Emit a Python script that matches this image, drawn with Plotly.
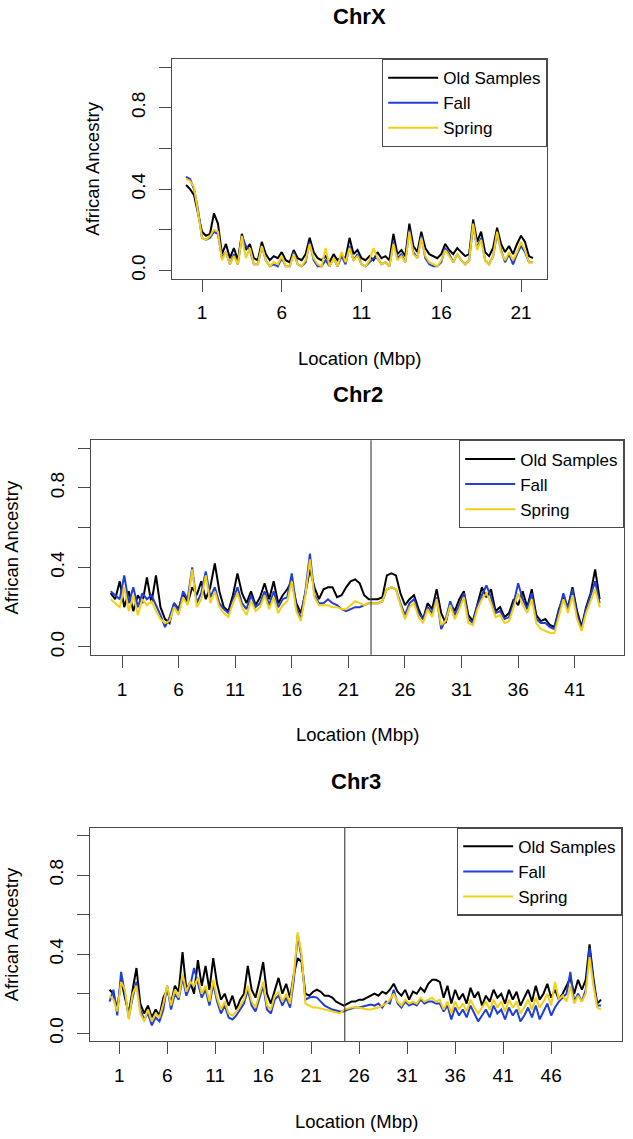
import plotly.graph_objects as go

# ---------------- data ----------------
series_names = ["Old Samples", "Fall", "Spring"]
series_colors = ["#000000", "#1f3fd8", "#f5cf12"]

chrX_x = [0.0, 0.25, 0.5, 0.75, 1.0, 1.25, 1.5, 1.75, 2.0, 2.25,
          2.5, 2.75, 3.0, 3.25, 3.5, 3.75, 4.0, 4.25, 4.5, 4.75,
          5.0, 5.25, 5.5, 5.75, 6.0, 6.25, 6.5, 6.75, 7.0, 7.25,
          7.5, 7.75, 8.0, 8.25, 8.5, 8.75, 9.0, 9.25, 9.5, 9.75,
          10.0, 10.25, 10.5, 10.75, 11.0, 11.25, 11.5, 11.75, 12.0, 12.25,
          12.5, 12.75, 13.0, 13.25, 13.5, 13.75, 14.0, 14.25, 14.5, 14.75,
          15.0, 15.25, 15.5, 15.75, 16.0, 16.25, 16.5, 16.75, 17.0, 17.25,
          17.5, 17.75, 18.0, 18.25, 18.5, 18.75, 19.0, 19.25, 19.5, 19.75,
          20.0, 20.25, 20.5, 20.75, 21.0, 21.25, 21.5, 21.75]
chrX_old = [.42, .40, .37, .28, .19, .17, .18, .28, .23, .08,
            .13, .06, .11, .05, .18, .10, .13, .06, .05, .14,
            .08, .05, .07, .06, .09, .05, .04, .10, .06, .05,
            .08, .16, .09, .06, .05, .07, .04, .08, .05, .07,
            .06, .16, .08, .10, .06, .05, .07, .05, .09, .06,
            .07, .05, .18, .08, .10, .07, .23, .12, .09, .19,
            .11, .08, .07, .06, .08, .13, .10, .08, .11, .09,
            .07, .08, .25, .14, .19, .09, .07, .11, .21, .13,
            .09, .12, .08, .13, .17, .14, .07, .06]
chrX_fall = [.46, .45, .40, .30, .16, .15, .16, .19, .18, .06,
             .09, .03, .08, .03, .17, .12, .10, .03, .03, .12,
             .05, .02, .03, .02, .06, .02, .02, .09, .03, .02,
             .04, .14, .05, .02, .02, .05, .02, .06, .02, .07,
             .03, .12, .05, .08, .03, .02, .04, .06, .06, .03,
             .04, .02, .14, .06, .08, .04, .20, .09, .06, .17,
             .06, .03, .02, .02, .04, .11, .08, .04, .08, .05,
             .03, .05, .22, .11, .16, .05, .03, .07, .18, .10,
             .04, .08, .03, .08, .12, .09, .04, .04]
chrX_spring = [.45, .44, .41, .29, .16, .15, .17, .20, .19, .05,
               .09, .03, .07, .03, .17, .06, .11, .03, .03, .12,
               .05, .02, .04, .03, .07, .02, .02, .08, .03, .02,
               .05, .13, .06, .03, .02, .11, .02, .06, .02, .09,
               .04, .11, .05, .07, .03, .02, .05, .11, .06, .03,
               .04, .02, .13, .05, .07, .04, .19, .08, .06, .16,
               .07, .04, .03, .02, .05, .10, .07, .04, .08, .05,
               .03, .05, .23, .10, .15, .05, .03, .07, .19, .09,
               .05, .09, .05, .09, .14, .10, .04, .04]

chr2_x = [0.0, 0.4, 0.8, 1.2, 1.6, 2.0, 2.4, 2.8, 3.2, 3.6,
          4.0, 4.4, 4.8, 5.2, 5.6, 6.0, 6.4, 6.8, 7.2, 7.6,
          8.0, 8.4, 8.8, 9.2, 9.6, 10.0, 10.4, 10.8, 11.2, 11.6,
          12.0, 12.4, 12.8, 13.2, 13.6, 14.0, 14.4, 14.8, 15.2, 15.6,
          16.0, 16.4, 16.8, 17.2, 17.6, 18.0, 18.4, 18.8, 19.2, 19.6,
          20.0, 20.4, 20.8, 21.2, 21.6, 22.0, 22.4, 22.8, 23.2, 23.6,
          24.0, 24.4, 24.8, 25.2, 25.6, 26.0, 26.4, 26.8, 27.2, 27.6,
          28.0, 28.4, 28.8, 29.2, 29.6, 30.0, 30.4, 30.8, 31.2, 31.6,
          32.0, 32.4, 32.8, 33.2, 33.6, 34.0, 34.4, 34.8, 35.2, 35.6,
          36.0, 36.4, 36.8, 37.2, 37.6, 38.0, 38.4, 38.8, 39.2, 39.6,
          40.0, 40.4, 40.8, 41.2, 41.6, 42.0, 42.4, 42.8, 43.2]
chr2_old = [.27, .24, .33, .20, .28, .18, .26, .22, .35, .22,
            .36, .20, .14, .12, .22, .19, .27, .22, .30, .26,
            .33, .24, .30, .42, .28, .20, .18, .26, .37, .27,
            .22, .28, .21, .25, .32, .24, .33, .22, .26, .29,
            .33, .22, .17, .27, .39, .30, .24, .29, .30, .30,
            .25, .26, .30, .33, .34, .32, .26, .24, .24, .24,
            .25, .36, .37, .36, .27, .21, .24, .26, .19, .14,
            .22, .19, .29, .17, .12, .22, .18, .24, .28, .16,
            .13, .22, .30, .25, .29, .18, .20, .15, .17, .24,
            .21, .28, .20, .29, .16, .13, .14, .11, .10, .19,
            .25, .20, .30, .18, .10, .20, .27, .39, .24]
chr2_fall = [.28, .26, .24, .36, .22, .30, .20, .27, .24, .26,
             .21, .16, .10, .15, .22, .18, .28, .24, .40, .22,
             .27, .38, .25, .30, .22, .19, .17, .24, .30, .22,
             .19, .26, .20, .22, .28, .21, .28, .20, .24, .25,
             .37, .20, .14, .28, .47, .26, .22, .22, .24, .22,
             .21, .19, .18, .19, .20, .20, .21, .22, .22, .22,
             .23, .29, .30, .29, .22, .16, .22, .24, .17, .14,
             .20, .17, .25, .09, .14, .23, .16, .21, .27, .14,
             .12, .21, .26, .31, .25, .17, .18, .14, .15, .22,
             .32, .24, .19, .27, .14, .12, .12, .10, .09, .18,
             .27, .19, .29, .16, .09, .19, .26, .33, .22]
chr2_spring = [.24, .22, .20, .30, .18, .26, .16, .24, .21, .23,
               .18, .14, .12, .13, .20, .16, .25, .21, .39, .20,
               .24, .36, .22, .28, .20, .17, .15, .22, .27, .20,
               .16, .23, .18, .20, .26, .19, .25, .17, .21, .23,
               .33, .18, .13, .26, .44, .25, .21, .21, .21, .20,
               .20, .19, .19, .21, .23, .22, .21, .22, .22, .22,
               .23, .29, .30, .29, .21, .14, .20, .22, .15, .12,
               .19, .15, .24, .11, .13, .21, .14, .19, .25, .12,
               .11, .19, .24, .27, .22, .15, .16, .12, .13, .20,
               .27, .21, .17, .24, .12, .09, .08, .07, .07, .16,
               .24, .17, .26, .14, .08, .17, .23, .29, .20]

chr3_x = [0.0, 0.4, 0.8, 1.2, 1.6, 2.0, 2.4, 2.8, 3.2, 3.6,
          4.0, 4.4, 4.8, 5.2, 5.6, 6.0, 6.4, 6.8, 7.2, 7.6,
          8.0, 8.4, 8.8, 9.2, 9.6, 10.0, 10.4, 10.8, 11.2, 11.6,
          12.0, 12.4, 12.8, 13.2, 13.6, 14.0, 14.4, 14.8, 15.2, 15.6,
          16.0, 16.4, 16.8, 17.2, 17.6, 18.0, 18.4, 18.8, 19.2, 19.6,
          20.0, 20.4, 20.8, 21.2, 21.6, 22.0, 22.4, 22.8, 23.2, 23.6,
          24.0, 24.4, 24.8, 25.2, 25.6, 26.0, 26.4, 26.8, 27.2, 27.6,
          28.0, 28.4, 28.8, 29.2, 29.6, 30.0, 30.4, 30.8, 31.2, 31.6,
          32.0, 32.4, 32.8, 33.2, 33.6, 34.0, 34.4, 34.8, 35.2, 35.6,
          36.0, 36.4, 36.8, 37.2, 37.6, 38.0, 38.4, 38.8, 39.2, 39.6,
          40.0, 40.4, 40.8, 41.2, 41.6, 42.0, 42.4, 42.8, 43.2, 43.6,
          44.0, 44.4, 44.8, 45.2, 45.6, 46.0, 46.4, 46.8, 47.2, 47.6,
          48.0, 48.4, 48.8, 49.2, 49.6, 50.0, 50.4, 50.8, 51.2]
chr3_old = [.22, .20, .12, .27, .18, .10, .22, .33, .15, .10,
            .14, .08, .12, .09, .18, .22, .15, .24, .21, .41,
            .22, .26, .20, .37, .24, .34, .22, .38, .25, .17,
            .20, .14, .19, .12, .17, .20, .34, .22, .18, .26,
            .36, .20, .15, .22, .28, .20, .25, .18, .30, .38,
            .36, .20, .19, .21, .22, .21, .19, .19, .18, .16,
            .15, .14, .15, .16, .16, .17, .17, .18, .19, .20,
            .19, .21, .20, .22, .25, .21, .19, .22, .17, .21,
            .20, .23, .21, .25, .27, .27, .26, .18, .24, .15,
            .22, .17, .20, .15, .23, .18, .21, .14, .19, .16,
            .22, .18, .20, .15, .22, .17, .21, .14, .18, .22,
            .16, .24, .17, .20, .25, .18, .22, .17, .20, .24,
            .28, .20, .27, .22, .27, .45, .28, .15, .17]
chr3_fall = [.16, .22, .09, .31, .20, .08, .18, .26, .12, .07,
             .10, .04, .08, .06, .12, .24, .12, .20, .17, .28,
             .19, .24, .33, .26, .18, .22, .14, .25, .16, .10,
             .14, .08, .07, .09, .12, .15, .22, .14, .11, .18,
             .24, .12, .10, .17, .19, .14, .18, .13, .27, .50,
             .38, .17, .18, .185, .18, .16, .14, .13, .12, .115,
             .11, .11, .12, .125, .13, .13, .135, .14, .145, .14,
             .15, .13, .16, .15, .22, .15, .13, .16, .14, .15,
             .14, .17, .15, .16, .16, .15, .15, .11, .14, .07,
             .13, .09, .12, .08, .14, .10, .06, .09, .12, .08,
             .14, .10, .12, .07, .13, .09, .12, .06, .09, .13,
             .08, .14, .07, .11, .15, .09, .13, .16, .18, .20,
             .31, .16, .20, .16, .22, .43, .26, .14, .14]
chr3_spring = [.19, .17, .11, .26, .22, .07, .20, .24, .10, .06,
               .12, .06, .10, .08, .15, .24, .14, .22, .18, .30,
               .21, .26, .24, .28, .20, .24, .16, .27, .18, .12,
               .16, .10, .09, .11, .14, .17, .24, .16, .13, .20,
               .26, .14, .12, .19, .21, .16, .20, .15, .30, .51,
               .40, .15, .14, .13, .13, .125, .12, .115, .11, .105,
               .10, .12, .125, .13, .13, .13, .125, .12, .12, .125,
               .13, .14, .15, .17, .20, .16, .14, .17, .15, .16,
               .15, .18, .16, .17, .18, .16, .17, .12, .16, .10,
               .16, .12, .15, .11, .17, .13, .10, .13, .16, .12,
               .17, .13, .16, .11, .17, .13, .16, .10, .13, .17,
               .12, .18, .13, .16, .20, .14, .26, .17, .19, .16,
               .24, .15, .19, .16, .20, .385, .24, .13, .12]

panel_titles = ["ChrX", "Chr2", "Chr3"]
x_tick_values = [[1, 6, 11, 16, 21],
                 [1, 6, 11, 16, 21, 26, 31, 36, 41],
                 [1, 6, 11, 16, 21, 26, 31, 36, 41, 46]]
y_tick_values = [0.0, 0.2, 0.4, 0.6, 0.8, 1.0]
y_tick_labels = ["0.0", "", "0.4", "", "0.8", ""]
centromere_x = [None, 23.0, 24.5]
x_title = "Location (Mbp)"
y_title = "African Ancestry"

panels = [
    (chrX_x, [chrX_old, chrX_fall, chrX_spring]),
    (chr2_x, [chr2_old, chr2_fall, chr2_spring]),
    (chr3_x, [chr3_old, chr3_fall, chr3_spring]),
]

# ---------------- layout geometry (pixels) ----------------
W, H = 633, 1139
boxes = [  # left, right, top, bottom
    (172, 547, 59, 279),
    (91, 624, 441, 656),
    (90, 622, 829, 1043),
]
x_ranges = [[-0.881, 22.63], [-1.739, 45.35], [-2.04, 53.38]]
y_range = [-0.04, 1.04]

FONT = "Liberation Sans, Arial, Helvetica, sans-serif"
AX = "#4a4a4a"

fig = go.Figure()
legend_ids = ["legend", "legend2", "legend3"]
for p, (xs, ys) in enumerate(panels):
    xa = "x" if p == 0 else f"x{p+1}"
    ya = "y" if p == 0 else f"y{p+1}"
    for s in range(3):
        fig.add_trace(go.Scatter(
            x=xs, y=ys[s], mode="lines", name=series_names[s],
            line=dict(color=series_colors[s], width=2),
            xaxis=xa, yaxis=ya, legend=legend_ids[p], showlegend=True))

layout = dict(
    width=W, height=H, margin=dict(l=0, r=0, t=0, b=0),
    paper_bgcolor="white", plot_bgcolor="white",
    font=dict(family=FONT, color="black", size=19),
    annotations=[], shapes=[],
)

def px_x(v):
    return v / W

def px_y(v):
    return 1 - v / H

for p in range(3):
    l, r, t, b = boxes[p]
    suffix = "" if p == 0 else str(p + 1)
    layout["xaxis" + suffix] = dict(
        domain=[px_x(l), px_x(r)], range=x_ranges[p], anchor="y" + suffix,
        showline=True, mirror=True, linecolor=AX, linewidth=1.2,
        ticks="outside", ticklen=12, tickwidth=1.2, tickcolor=AX,
        tickvals=x_tick_values[p], ticktext=[str(v) for v in x_tick_values[p]],
        tickfont=dict(size=19, family=FONT, color="black"),
        ticklabelstandoff=5,
        showgrid=False, zeroline=False,
    )
    layout["yaxis" + suffix] = dict(
        domain=[px_y(b), px_y(t)], range=y_range, anchor="x" + suffix,
        showline=True, mirror=True, linecolor=AX, linewidth=1.2,
        ticks="outside", ticklen=12, tickwidth=1.2, tickcolor=AX,
        tickvals=y_tick_values, ticktext=y_tick_labels, tickangle=-90,
        tickfont=dict(size=19, family=FONT, color="black"),
        ticklabelstandoff=6,
        showgrid=False, zeroline=False,
    )
    # legend
    layout[legend_ids[p]] = dict(
        x=px_x(r), xanchor="right", y=px_y(t), yanchor="top",
        xref="paper", yref="paper",
        bordercolor=AX, borderwidth=1.2, bgcolor="white",
        font=dict(size=17, family=FONT, color="black"),
        tracegroupgap=0, itemwidth=50,
    )
    # titles
    cx = (l + r) / 2
    layout["annotations"].append(dict(
        text="<b>" + panel_titles[p] + "</b>", x=px_x(cx), y=px_y(t - 42 if p == 0 else t - 46),
        xref="paper", yref="paper", showarrow=False,
        font=dict(size=22, family=FONT, color="black"), xanchor="center", yanchor="middle"))
    layout["annotations"].append(dict(
        text=x_title, x=px_x(cx), y=px_y(b + 80), xref="paper", yref="paper",
        showarrow=False, font=dict(size=18.5, family=FONT, color="black"),
        xanchor="center", yanchor="middle"))
    layout["annotations"].append(dict(
        text=y_title, x=px_x(l - 79), y=px_y((t + b) / 2), xref="paper", yref="paper",
        showarrow=False, textangle=-90, font=dict(size=18.5, family=FONT, color="black"),
        xanchor="center", yanchor="middle"))
    if centromere_x[p] is not None:
        layout["shapes"].append(dict(
            type="line", xref="x" + suffix, yref="y" + suffix + " domain",
            x0=centromere_x[p], x1=centromere_x[p], y0=0, y1=1,
            line=dict(color=AX, width=1.2)))

fig.update_layout(**layout)
fig.write_html("out.html", config={"displayModeBar": False},
               post_script="document.body.style.margin='0';document.body.style.padding='0';")
